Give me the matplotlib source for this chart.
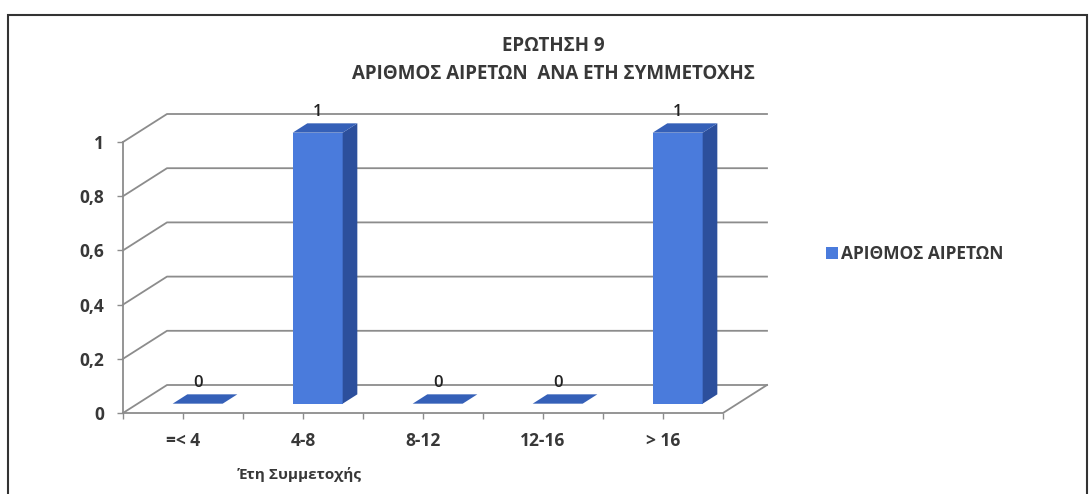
import matplotlib
matplotlib.use("Agg")
import matplotlib.pyplot as plt
from matplotlib.patches import Polygon, Rectangle
import numpy as np

# ---- data ----
categories = ["=< 4", "4-8", "8-12", "12-16", "> 16"]
values = [0, 1, 0, 0, 1]
series_name = "ΑΡΙΘΜΟΣ ΑΙΡΕΤΩΝ"
yticks = [0, 0.2, 0.4, 0.6, 0.8, 1]
ytick_labels = ["0", "0,2", "0,4", "0,6", "0,8", "1"]
title = "ΕΡΩΤΗΣΗ 9\nΑΡΙΘΜΟΣ ΑΙΡΕΤΩΝ  ΑΝΑ ΕΤΗ ΣΥΜΜΕΤΟΧΗΣ"
xlabel = "Έτη Συμμετοχής"

FONT = ["Open Sans", "DejaVu Sans"]
plt.rcParams["font.family"] = FONT
TXT = "#383838"
GRID = "#8c8c8c"
FRONT = "#4a7bdc"
SIDE = "#2c4f9c"
TOP = "#3560b8"

W, H = 1090, 494
fig = plt.figure(figsize=(W / 100, H / 100), dpi=100)
fig.patch.set_facecolor("white")

ax = fig.add_axes([123 / W, (H - 413) / H, 600 / W, 271 / H])
ax.set_xlim(-0.5, len(categories) - 0.5)
ax.set_ylim(0, 1)
ax.set_facecolor("none")
for s in ax.spines.values():
    s.set_visible(False)

# depth offset (data units)
DX = 44 / 120
DY = 28 / 271
x0, x1 = -0.5, len(categories) - 0.5

# walls / grid
for v in yticks:
    ax.plot([x0, x0 + DX, x1 + DX], [v, v + DY, v + DY], color=GRID, lw=1.3,
            clip_on=False, zorder=1)
ax.plot([x0, x0], [0, 1], color=GRID, lw=1.3, clip_on=False, zorder=1)
ax.plot([x0, x1, x1 + DX], [0, 0, DY], color=GRID, lw=1.3, clip_on=False, zorder=1)

# bars
xs = np.arange(len(categories))
bw = 50 / 120
fx, fy = DX / 3, DY / 3   # front face depth
bx, by = DX / 3, DY / 3   # bar depth
bars = ax.bar(xs + fx, values, width=bw, bottom=fy, color=FRONT, zorder=3,
              clip_on=False, label=series_name)
for x, v in zip(xs, values):
    l, r = x + fx - bw / 2, x + fx + bw / 2
    b, t = fy, fy + v
    if v > 0:
        ax.add_patch(Polygon([(r, b), (r + bx, b + by), (r + bx, t + by), (r, t)],
                             closed=True, fc=SIDE, ec="none", zorder=3, clip_on=False))
    ax.add_patch(Polygon([(l, t), (l + bx, t + by), (r + bx, t + by), (r, t)],
                         closed=True, fc=TOP, ec="none", zorder=3, clip_on=False))
    ax.annotate(str(v), (x + DX / 3, v + 2 * DY / 3), xytext=(0, 8),
                textcoords="offset points", ha="center", va="center",
                fontsize=12, color="#222222", fontweight="semibold",
                annotation_clip=False, zorder=5)

# ticks
ax.set_yticks(yticks)
ax.set_yticklabels(ytick_labels)
ax.tick_params(axis="y", length=4.5, width=1, color=GRID, pad=9,
               labelsize=12.5, labelcolor=TXT)
ax.set_xticks(xs)
ax.set_xticklabels(categories)
ax.set_xticks(np.arange(len(categories) + 1) - 0.5, minor=True)
ax.tick_params(axis="x", which="both", length=4, width=1, color=GRID, pad=10,
               labelsize=12.5, labelcolor=TXT)
for lab in ax.get_xticklabels() + ax.get_yticklabels():
    lab.set_fontweight("bold")

fig.text(300 / W, 1 - 474 / H, xlabel, ha="center", va="center",
         fontsize=11, fontweight="bold", color=TXT)
fig.text(553 / W, 1 - 60 / H, title, ha="center", va="center",
         fontsize=13.5, fontweight="bold", color=TXT, linespacing=1.55)

leg = fig.legend(handles=[bars], loc="center left",
                 bbox_to_anchor=(810 / W, 1 - 254 / H), frameon=False,
                 handlelength=0.7, handleheight=0.7, handletextpad=0.2,
                 prop={"weight": "bold", "size": 12.5, "family": FONT})
for t in leg.get_texts():
    t.set_color(TXT)

fig.add_artist(Rectangle((8 / W, -0.1), 1079 / W, 1.1 - 15 / H,
                         transform=fig.transFigure, fill=False,
                         ec="#333333", lw=1.5))

fig.savefig("out.png", dpi=100)
